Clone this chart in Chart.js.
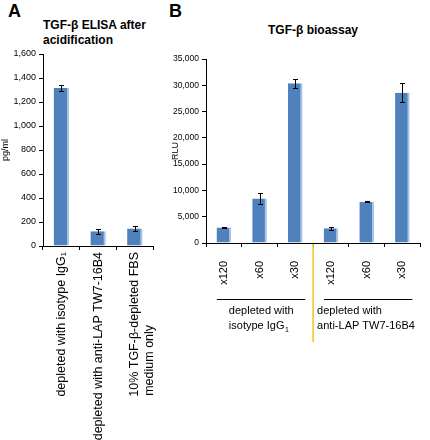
<!DOCTYPE html>
<html>
<head>
<meta charset="utf-8">
<script src="https://cdn.jsdelivr.net/npm/chart.js@4/dist/chart.umd.min.js"></script>
<style>
  html, body { margin: 0; padding: 0; background: #fff; }
  body { width: 430px; height: 440px; position: relative; overflow: hidden; font-family: "Liberation Sans", Arial, sans-serif; }
  canvas { position: absolute; top: 0; }
  .lbl { position: absolute; font-weight: bold; color: #000; white-space: nowrap; }
</style>
</head>
<body>
<div class="lbl" style="left:8px;top:1px;font-size:18px;">A</div>
<div class="lbl" style="left:169px;top:1px;font-size:18px;">B</div>
<div class="lbl" style="left:43px;top:18px;font-size:12px;line-height:15px;">TGF-β ELISA after<br>acidification</div>
<div class="lbl" style="left:268px;top:23px;font-size:12px;line-height:15px;">TGF-β bioassay</div>
<canvas id="cA" width="168" height="440" style="left:0px"></canvas>
<canvas id="cB" width="264" height="440" style="left:166px"></canvas>
<script>
// ---- Panel A data ----
const catsA = [
  "depleted with isotype IgG₁",
  "depleted with anti-LAP TW7-16B4",
  ["10% TGF-β-depleted FBS", "medium only"]
];
const valuesA = [1317, 123, 145];
const errorsA = [22, 19, 22];
const yTitleA = "pg/ml";

// ---- Panel B data ----
const catsB = ["x120", "x60", "x30", "x120", "x60", "x30"];
const valuesB = [2940, 8450, 30400, 2800, 7820, 28600];
const errorsB = [60, 1000, 850, 250, 80, 1750];
const yTitleB = "RLU";
const groupsB = [
  { from: 0, to: 2, lines: ["depleted with", "isotype IgG", "1"] },
  { from: 3, to: 5, lines: ["depleted with", "anti-LAP TW7-16B4", ""] }
];

const BAR = "#4F81BD";
const BAR_EDGE = "#A9C4E6";
const FONT = "'Liberation Sans', Arial, sans-serif";

// pad shorter lines of a multi-line rotated label so all lines start at the same point
function padLines(lines, size) {
  if (!Array.isArray(lines)) return lines;
  const c = document.createElement("canvas").getContext("2d");
  c.font = size + "px " + FONT;
  const maxW = Math.max(...lines.map(l => c.measureText(l).width));
  const sp = c.measureText(" ").width;
  return lines.map(l => l + " ".repeat(Math.max(0, Math.round((maxW - c.measureText(l).width) / sp))));
}

const errorBars = {
  id: "errorBars",
  afterDatasetsDraw(chart, args, opts) {
    const ctx = chart.ctx;
    const meta = chart.getDatasetMeta(0);
    const ys = chart.scales.y;
    const vals = chart.data.datasets[0].data;
    ctx.save();
    ctx.strokeStyle = "#000";
    ctx.lineWidth = 1;
    meta.data.forEach((bar, i) => {
      const e = opts.errors[i];
      const yt = Math.round(ys.getPixelForValue(vals[i] + e)) + 0.5;
      const yb = Math.round(ys.getPixelForValue(vals[i] - e)) + 0.5;
      const x = Math.round(bar.x) + 0.5;
      ctx.beginPath();
      ctx.moveTo(x, yt); ctx.lineTo(x, yb);
      ctx.moveTo(x - 2.5, yt); ctx.lineTo(x + 2.5, yt);
      ctx.moveTo(x - 2.5, yb); ctx.lineTo(x + 2.5, yb);
      ctx.stroke();
    });
    ctx.restore();
  }
};

function baseOptions(o) {
  return {
    responsive: false,
    animation: false,
    devicePixelRatio: 1,
    layout: { padding: o.padding },
    plugins: { legend: { display: false }, tooltip: { enabled: false }, title: { display: false },
      errorBars: { errors: o.errors } },
    scales: {
      x: {
        grid: { display: true, offset: true, drawOnChartArea: false, drawTicks: true, tickLength: 4, color: "#000" },
        border: { display: true, color: "#000", width: 1 },
        ticks: { color: "#000", font: { family: FONT, size: o.xSize, lineHeight: o.xLH }, maxRotation: 90, minRotation: 90, padding: o.xPad, autoSkip: false,
          callback: function (v) { return padLines(this.getLabelForValue(v), o.xSize); } },
        afterFit: s => { s.height = o.xHeight; }
      },
      y: {
        min: 0, max: o.yMax,
        grid: { display: true, drawOnChartArea: false, drawTicks: true, tickLength: 4, color: "#000" },
        border: { display: true, color: "#000", width: 1 },
        ticks: { stepSize: o.step, color: "#000", font: { family: FONT, size: o.tickSize }, padding: 3,
          callback: v => v.toLocaleString("en-US") },
        title: { display: true, text: o.yTitle, color: "#000", font: { family: FONT, size: 9 }, padding: { top: o.tPad, bottom: 0 } },
        afterFit: s => { s.width = o.yWidth; }
      }
    }
  };
}

new Chart(document.getElementById("cA"), {
  type: "bar",
  data: { labels: catsA, datasets: [{ data: valuesA, backgroundColor: BAR, borderColor: BAR_EDGE,
    borderWidth: { left: 0, top: 0, bottom: 0, right: 2 }, borderSkipped: false,
    barPercentage: 0.42, categoryPercentage: 1 }] },
  options: baseOptions({ padding: { top: 54, right: 7, left: 0, bottom: 0 }, errors: errorsA, xPad: 2,
    xSize: 12.5, xLH: 1.2, tPad: 0,
    xHeight: 194, yMax: 1600, step: 200, tickSize: 9, yTitle: yTitleA, yWidth: 43 }),
  plugins: [errorBars]
});

const groupPlugin = {
  id: "groupPlugin",
  afterDraw(chart) {
    const ctx = chart.ctx;
    const xs = chart.scales.x;
    ctx.save();
    // yellow separator
    const sep = (xs.getPixelForValue(2) + xs.getPixelForValue(3)) / 2;
    ctx.strokeStyle = "#F2C318";
    ctx.lineWidth = 1.5;
    ctx.beginPath();
    ctx.moveTo(sep, chart.chartArea.bottom + 1);
    ctx.lineTo(sep, 342);
    ctx.stroke();
    ctx.strokeStyle = "#000";
    ctx.lineWidth = 1;
    ctx.fillStyle = "#000";
    ctx.textBaseline = "middle";
    ctx.textAlign = "left";
    groupsB.forEach((g, gi) => {
      const x0 = xs.getPixelForValue(g.from) - 7;
      const x1 = xs.getPixelForValue(g.to) + 10;
      ctx.beginPath();
      ctx.moveTo(x0, 299.5); ctx.lineTo(x1, 299.5);
      ctx.stroke();
      const tx = gi === 0 ? x0 + 12 : sep + 4;
      ctx.font = "11px " + FONT;
      ctx.fillText(g.lines[0], tx, 311);
      ctx.fillText(g.lines[1], tx, 326);
      if (g.lines[2]) {
        const w = ctx.measureText(g.lines[1]).width;
        ctx.font = "7px " + FONT;
        ctx.fillText(g.lines[2], tx + w + 0.5, 330);
      }
    });
    ctx.restore();
  }
};

new Chart(document.getElementById("cB"), {
  type: "bar",
  data: { labels: catsB, datasets: [{ data: valuesB, backgroundColor: BAR, borderColor: BAR_EDGE,
    borderWidth: { left: 0, top: 0, bottom: 0, right: 2 }, borderSkipped: false,
    barPercentage: 0.41, categoryPercentage: 1 }] },
  options: baseOptions({ padding: { top: 59, right: 5, left: 0, bottom: 0 }, errors: errorsB, xPad: 14,
    xSize: 11, xLH: 1.2, tPad: 4,
    xHeight: 197, yMax: 35000, step: 5000, tickSize: 8.5, yTitle: yTitleB, yWidth: 40 }),
  plugins: [errorBars, groupPlugin]
});
</script>
</body>
</html>
